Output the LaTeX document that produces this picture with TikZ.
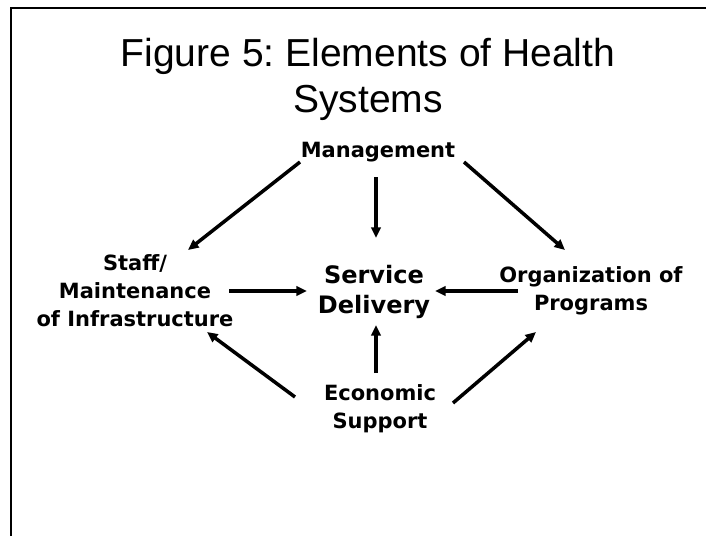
\documentclass[tikz,border=0pt]{standalone}
\usepackage{fontspec}
\setmainfont{DejaVu Sans}
\newfontfamily\titlefont{Liberation Sans}
\frenchspacing
\usetikzlibrary{arrows.meta, calc}
\tikzset{
    heading/.style={align=center, inner sep=0pt, font=\titlefont\fontsize{33.3}{39.3}\selectfont},
    elem/.style={align=center, inner sep=0pt, font=\bfseries\fontsize{17.9}{23.9}\selectfont},
    hub/.style={align=center, inner sep=0pt, font=\bfseries\fontsize{20.5}{25.6}\selectfont},
    arrow/.style={line width=3pt, -{Triangle[length=9pt, width=8pt]}},
    frame/.style={line width=1.8pt}
}
\begin{document}
\begin{tikzpicture}[x=0.03cm, y=-0.03cm]
    \useasboundingbox (0,0) rectangle (706,536);
    \draw [frame] (11,536) -- (11,8) -- (706,8);
    % Nodes
    \node (title) [heading] at (368,79) {Figure 5: Elements of Health\\Systems};
    \node (mgmt) [elem] at (378,152) {Management};
    \node (staff) [elem] at (135,291) {Staff/\\Maintenance\\of Infrastructure};
    \node (service) [hub] at (374,292) {Service\\Delivery};
    \node (org) [elem] at (591,291) {Organization of\\Programs};
    \node (econ) [elem] at (380,409) {Economic\\Support};
    % Arrows
    \draw [arrow] ($(mgmt)+(-78,10)$) -- ($(staff)+(53,-41)$);
    \draw [arrow] ($(mgmt)+(-2,25)$) -- ($(service)+(2,-54)$);
    \draw [arrow] ($(mgmt)+(86,10)$) -- ($(org)+(-26,-41)$);
    \draw [arrow] ($(staff)+(94,0)$) -- ($(service)+(-67,-1)$);
    \draw [arrow] ($(org)+(-73,0)$) -- ($(service)+(61,-1)$);
    \draw [arrow] ($(econ)+(-4,-36)$) -- ($(service)+(2,33)$);
    \draw [arrow] ($(econ)+(-85,-12)$) -- ($(staff)+(72,41)$);
    \draw [arrow] ($(econ)+(73,-6)$) -- ($(org)+(-55,41)$);
\end{tikzpicture}
\end{document}
